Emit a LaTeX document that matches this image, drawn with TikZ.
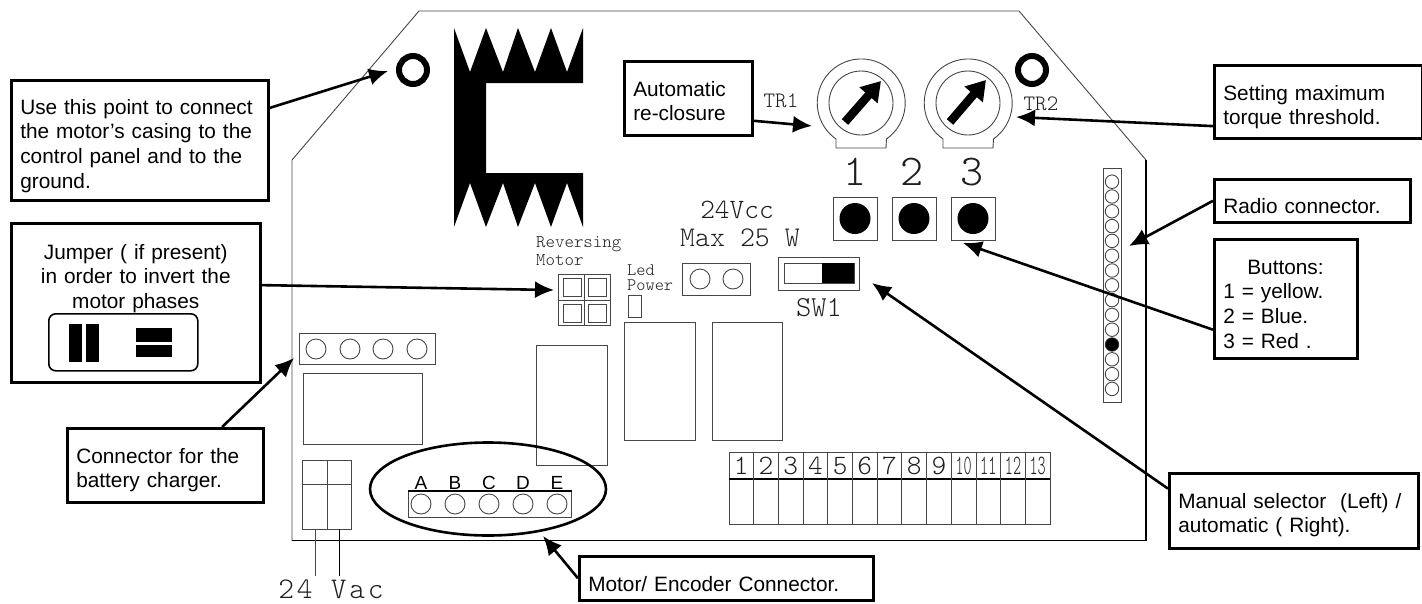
\documentclass[tikz,border=0pt]{standalone}
\usepackage{fontspec}
\usepackage{tikz}
\usetikzlibrary{positioning,shapes,arrows.meta,calc}
\setmainfont{Liberation Sans}
\newfontfamily\cadwide[LetterSpace=9]{Latin Modern Mono Light}
\newfontfamily\cadthin{Latin Modern Mono Light}
\newfontfamily\cadcond[FakeStretch=0.55]{Latin Modern Mono Light}
\definecolor{linegray}{RGB}{70,70,70}
\definecolor{cadgray}{RGB}{30,30,30}

\begin{document}
\begin{tikzpicture}[x=1pt, y=-1pt, node distance=59pt]
    \tikzstyle{callout} = [rectangle, draw=black, line width=2.6pt, fill=white, anchor=north west, inner ysep=0pt, inner xsep=9pt, align=left, font=\fontsize{20.8}{24.6}\selectfont]
    \tikzstyle{callarrow} = [line width=2.6pt, -{Latex[length=19pt,width=17pt]}]
    \tikzstyle{part} = [rectangle, draw=linegray, line width=0.9pt, inner sep=0pt, anchor=north west]
    \tikzstyle{pin} = [circle, draw=linegray, line width=0.9pt, inner sep=0pt, minimum size=20pt]
    \tikzstyle{strippin} = [circle, draw=linegray, line width=0.9pt, inner sep=0pt, minimum size=13.5pt]
    \tikzstyle{pushbutton} = [rectangle, draw=linegray, line width=1pt, minimum width=44pt, minimum height=43pt, inner sep=0pt]
    \tikzstyle{cadlabel} = [inner sep=0pt, text=cadgray]
    \tikzstyle{potinner} = [circle, draw=linegray, line width=0.9pt, minimum size=64pt, inner sep=0pt]
    \tikzstyle{potarrow} = [line width=8.5pt, -{Triangle[length=19pt,width=23pt]}]
    \tikzstyle{earth} = [circle, draw=black, line width=6pt, minimum size=28pt, inner sep=0pt]

    \useasboundingbox (0,0) rectangle (1422,603);

    % Board outline
    \draw [linegray, line width=0.9pt] (292,541) -- (292,160) -- (419,11) -- (1019,11) -- (1146,160);
    \draw [black, line width=1.4pt] (292,540.5) -- (1146,540.5) -- (1146,160);

    % Heat sink
    \fill (454,28) -- (470,72) -- (486,28) -- (503,72) -- (518,28) -- (535,72) -- (551,28) -- (567,72) -- (583,28) -- (583,83) -- (486,83) -- (486,173) -- (583,173) -- (583,227) -- (567,183) -- (551,227) -- (535,183) -- (518,227) -- (503,183) -- (486,227) -- (470,183) -- (454,227) -- cycle;

    % Earth points
    \node [earth] (earthleft) at (413,70) {};
    \node [earth] (earthright) at (1032,70) {};

    % Trimmers
    \foreach \cx in {861,968} {
        \draw [linegray, line width=0.9pt] (\cx-25,148) -- (\cx-25,139) arc [start angle=235, end angle=-55, radius=44pt] -- (\cx+25,148) -- cycle;
    }
    \node [potinner] (trone) at (861,103) {};
    \node [potinner] (trtwo) at (968,103) {};
    \draw [potarrow] (845,122) -- (881,81);
    \draw [potarrow] (950,122) -- (986,80);
    \node [cadlabel, font=\cadthin\fontsize{22}{22}\selectfont] (trlabelone) at (781,101) {TR1};
    \node [cadlabel, font=\cadthin\fontsize{22}{22}\selectfont] (trlabeltwo) at (1041,104) {TR2};

    % Push buttons
    \node [pushbutton] (btnone) at (855,218.5) {};
    \node [pushbutton, right of=btnone] (btntwo) {};
    \node [pushbutton, right of=btntwo] (btnthree) {};
    \fill (btnone) circle [radius=15.5pt];
    \fill (btntwo) circle [radius=15.5pt];
    \fill (btnthree) circle [radius=15.5pt];
    \node [cadlabel, font=\cadthin\fontsize{44}{44}\selectfont] (numone) at (855,172) {1};
    \node [cadlabel, font=\cadthin\fontsize{44}{44}\selectfont] (numtwo) at (912,172) {2};
    \node [cadlabel, font=\cadthin\fontsize{44}{44}\selectfont] (numthree) at (972,172) {3};

    % Power output and selector
    \node [cadlabel, font=\cadthin\fontsize{28}{28}\selectfont] (vcclabel) at (737,210) {24Vcc};
    \node [cadlabel, font=\cadthin\fontsize{28.5}{28}\selectfont] (maxlabel) at (740,238) {Max 25 W};
    \node [part, minimum width=68pt, minimum height=32pt, line width=1.2pt] (powerout) at (682,263) {};
    \node [pin] (powerpinone) at (700,279) {};
    \node [pin] (powerpintwo) at (733,279) {};
    \node [part, minimum width=81pt, minimum height=33pt] (selector) at (778,257) {};
    \node [part, minimum width=70pt, minimum height=20pt, line width=1.2pt] (selectorslot) at (784,263) {};
    \fill (822,263) rectangle (854,283);
    \node [cadlabel, font=\cadthin\fontsize{29}{29}\selectfont] (swlabel) at (819,308) {SW1};

    % Reversing jumper
    \node [cadlabel, anchor=west, font=\cadthin\fontsize{18}{18}\selectfont] (revlabel) at (536,244) {Reversing};
    \node [cadlabel, anchor=west, font=\cadthin\fontsize{18}{18}\selectfont] (motlabel) at (536,260) {Motor};
    \node [part, minimum width=52pt, minimum height=51pt] (jumperblock) at (558,274) {};
    \draw [linegray, line width=0.9pt] (jumperblock.north) -- (jumperblock.south);
    \draw [linegray, line width=0.9pt] (jumperblock.west) -- (jumperblock.east);
    \foreach \jx/\jy in {563/278,588/278,563/304,588/304} {
        \node [part, minimum width=18pt, minimum height=18pt, line width=1.2pt] at (\jx,\jy) {};
    }

    % Led
    \node [cadlabel, anchor=west, font=\cadthin\fontsize{17.5}{17.5}\selectfont] (ledlabel) at (627,270) {Led};
    \node [cadlabel, anchor=west, font=\cadthin\fontsize{17.5}{17.5}\selectfont] (powlabel) at (627,285) {Power};
    \node [part, minimum width=13pt, minimum height=22pt, line width=1.2pt] (led) at (628,295) {};

    % Relays
    \node [part, minimum width=71pt, minimum height=118pt] (relayone) at (624,322) {};
    \node [part, minimum width=70pt, minimum height=118pt] (relaytwo) at (712,322) {};
    \node [part, minimum width=71pt, minimum height=120pt] (relaythree) at (536,345) {};
    \node [part, minimum width=119pt, minimum height=71pt] (relayfour) at (303,373) {};

    % Battery charger connector
    \node [part, minimum width=136pt, minimum height=31pt] (battery) at (299,333) {};
    \foreach \bx in {316,350,383,417} {
        \node [pin] at (\bx,349) {};
    }

    % Mains connector
    \node [part, minimum width=49pt, minimum height=69pt] (mains) at (302,460) {};
    \draw [linegray, line width=0.9pt] (mains.north) -- (mains.south);
    \draw [linegray, line width=0.9pt] (302,484) -- (351,484);
    \coordinate (wireone) at (315,576);
    \coordinate (wiretwo) at (339,576);
    \draw [linegray, line width=0.9pt] (315,529) -- (wireone);
    \draw [black, line width=0.9pt] (339,529) -- (wiretwo);
    \node [cadlabel, font=\cadwide\fontsize{30}{30}\selectfont] (mainslabel) at (331,589) {24 Vac};

    % Motor connector
    \node [part, minimum width=163pt, minimum height=26pt] (motorconn) at (408,491) {};
    \draw [black, line width=1.6pt] (motorconn.north west) -- (motorconn.north east);
    \foreach \mx/\mname in {421/A,455/B,489/C,523/D,557/E} {
        \node [pin] at (\mx,504) {};
        \node [cadlabel, text=black, font=\fontsize{19}{19}\selectfont] at (\mx,483) {\mname};
    }
    \draw [black, line width=2.6pt] (488,489) ellipse [x radius=118pt, y radius=46.5pt];

    % Radio strip
    \node [part, minimum width=18pt, minimum height=234pt, line width=1.2pt] (radio) at (1103,168) {};
    \foreach \n in {0,...,14} {
        \node [strippin] at (1112,181.7+14.8*\n) {};
    }
    \fill (1112,344.5) circle [radius=6.5pt];

    % Terminal block
    \node [part, minimum width=321pt, minimum height=72pt] (terminals) at (729,452) {};
    \draw [black, line width=1.1pt] (729,479) -- (1050,479);
    \foreach \n in {1,...,12} {
        \draw [linegray, line width=0.9pt] (729+24.7*\n,452) -- (729+24.7*\n,524);
    }
    \foreach \n in {1,...,9} {
        \node [cadlabel, font=\cadthin\fontsize{28}{28}\selectfont] at (716.6+24.7*\n,466) {\n};
    }
    \foreach \n in {10,...,13} {
        \node [cadlabel, font=\cadcond\fontsize{28}{28}\selectfont] at (716.6+24.7*\n,466) {\n};
    }

    % Jumper key
    \node [callout, text width=231pt, align=center, minimum width=249pt, text height=36pt, text depth=123pt] (jumperbox) at (10,222) {Jumper ( if present)\\in order to invert the\\motor phases};
    \node [rectangle, draw=black, line width=1.6pt, rounded corners=7pt, minimum width=149pt, minimum height=57pt, inner sep=0pt, anchor=north west] (jumperkey) at (48,313) {};
    \fill (69,324) rectangle (82,362);
    \fill (86,324) rectangle (99,362);
    \fill (136,328) rectangle (172,342);
    \fill (136,345) rectangle (172,357);

    % Callout boxes
    \node [callout, text width=239pt, text height=34pt, text depth=86pt] (usebox) at (10,79) {Use this point to connect\\the motor's casing to the\\control panel and to the\\ground.};
    \node [callout, text width=110pt, text height=35pt, text depth=39pt] (autobox) at (623,60) {Automatic\\re-closure};
    \node [callout, text width=190pt, text height=35pt, text depth=38pt] (settingbox) at (1213,64) {Setting maximum\\torque threshold.};
    \node [callout, text width=178pt, text height=34pt, text depth=9pt] (radiobox) at (1213,178) {Radio connector.};
    \node [callout, text width=125pt, text height=35pt, text depth=84pt] (buttonsbox) at (1213,238) {\hspace*{24pt}Buttons:\\1 = yellow.\\2 = Blue.\\3 = Red .};
    \node [callout, text width=178pt, text height=35pt, text depth=39pt] (chargerbox) at (66,427) {Connector for the\\battery charger.};
    \node [callout, text width=231pt, text height=35pt, text depth=40pt] (manualbox) at (1168,472) {Manual selector\ \ (Left) /\\automatic ( Right).};
    \node [callout, text width=276pt, text height=35pt, text depth=9pt] (motorbox) at (578,555) {Motor/ Encoder Connector.};

    % Arrow ends
    \coordinate (earthtip) at (388,71);
    \coordinate (jumpertip) at (554,290);
    \coordinate (autotip) at (812,126);
    \coordinate (settingtip) at (1016,117);
    \coordinate (radiotip) at (1129,246);
    \coordinate (buttonstip) at (963,243);
    \coordinate (manualtip) at (872,283);
    \coordinate (chargertip) at (294,358);
    \coordinate (motortip) at (543,536);

    % Arrows
    \draw [callarrow] (usebox.14) -- (earthtip);
    \draw [callarrow] (jumperbox.8.5) -- (jumpertip);
    \draw [callarrow] (autobox.-19) -- (autotip);
    \draw [callarrow] (settingbox.-167) -- (settingtip);
    \draw [callarrow] (radiobox.west) -- (radiotip);
    \draw [callarrow] (buttonsbox.203) -- (buttonstip);
    \draw [callarrow] (manualbox.170) -- (manualtip);
    \draw [callarrow] (chargerbox.34) -- (chargertip);
    \draw [callarrow] (motorbox.west) -- (motortip);
\end{tikzpicture}
\end{document}
